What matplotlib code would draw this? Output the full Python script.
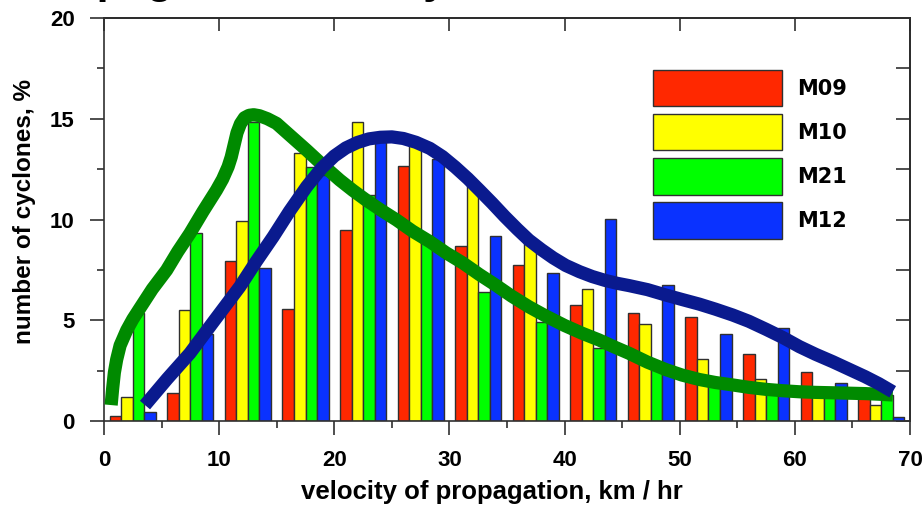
import matplotlib
matplotlib.use("Agg")
import matplotlib.pyplot as plt
import numpy as np
from matplotlib.ticker import MultipleLocator

# ---- data ----
bin_starts = [0, 5, 10, 15, 20, 25, 30, 35, 40, 45, 50, 55, 60, 65]
series_names = ["M09", "M10", "M21", "M12"]
m09 = [0.25, 1.37, 7.94, 5.56, 9.46, 12.65, 8.70, 7.74, 5.76, 5.34, 5.15, 3.33, 2.42, 1.50]
m10 = [1.18, 5.50, 9.94, 13.30, 14.82, 13.70, 11.80, 9.00, 6.53, 4.80, 3.06, 2.07, 1.50, 0.79]
m21 = [5.37, 9.35, 14.82, 12.60, 11.20, 9.00, 6.39, 4.93, 3.60, 2.80, 2.10, 1.70, 1.40, 1.30]
m12 = [0.46, 4.32, 7.58, 12.20, 13.90, 13.00, 9.20, 7.33, 10.02, 6.75, 4.32, 4.60, 1.87, 0.18]

green_x = [0.62, 0.75, 0.9, 1.1, 1.4, 1.97, 2.5, 3.12, 4.2, 5.44, 6.4, 7.46, 8.6, 9.77, 10.3,
           10.78, 11.05, 11.3, 11.55, 11.85, 12.2, 12.6, 13.0, 13.5, 14.2, 14.98, 16.2,
           17.58, 19.0, 20.47, 21.6, 22.8, 24.1, 25.4, 26.8, 28.3, 29.7, 31.2, 32.6, 34.0,
           35.4, 36.9, 38.4, 40.0, 41.5, 43.0, 44.3, 45.6, 47.2, 48.8, 50.2, 51.7, 53.1,
           54.6, 56.0, 57.5, 59.0, 60.4, 61.8, 63.3, 64.7, 66.1, 67.3, 68.5]
green_y = [0.79, 1.6, 2.4, 3.05, 3.75, 4.5, 5.05, 5.6, 6.55, 7.49, 8.4, 9.31, 10.4, 11.46, 12.0,
           12.62, 13.1, 13.7, 14.3, 14.75, 15.05, 15.17, 15.2, 15.15, 15.0, 14.77, 14.15,
           13.45, 12.7, 11.96, 11.45, 10.95, 10.45, 9.98, 9.42, 8.90, 8.35, 7.83, 7.27, 6.75,
           6.2, 5.67, 5.2, 4.74, 4.36, 4.02, 3.68, 3.36, 2.92, 2.55, 2.28, 2.06, 1.91,
           1.79, 1.67, 1.57, 1.50, 1.45, 1.42, 1.40, 1.38, 1.36, 1.33, 1.29]

blue_x = [3.56, 5.5, 7.46, 9.6, 11.8, 13.2, 14.7, 16.1, 17.6, 18.9, 20.0, 21.0, 22.0, 23.0,
          24.0, 25.0, 26.0, 27.1, 28.3, 29.4, 30.5, 31.6, 32.6, 33.7, 34.8, 35.9, 36.9,
          38.0, 39.0, 40.1, 41.3, 42.4, 43.5, 44.6, 45.6, 47.2, 48.8, 50.2, 51.7, 53.1,
          54.6, 56.0, 57.5, 59.0, 60.4, 61.8, 63.3, 64.7, 66.1, 67.3, 68.5]
blue_y = [0.79, 2.1, 3.36, 5.0, 6.67, 7.9, 9.15, 10.4, 11.63, 12.55, 13.15, 13.55, 13.82, 14.0,
          14.08, 14.1, 14.02, 13.83, 13.53, 13.12, 12.6, 12.03, 11.46, 10.82, 10.15, 9.52, 8.98,
          8.5, 8.1, 7.72, 7.41, 7.17, 6.98, 6.83, 6.72, 6.52, 6.25, 6.03, 5.80, 5.55,
          5.26, 4.95, 4.55, 4.13, 3.69, 3.31, 2.94, 2.57, 2.20, 1.85, 1.45]

bar_colors = ["#FF2800", "#FFFF00", "#00FF00", "#0A32FF"]
green_line = "#008A00"
blue_line = "#0A1A8E"

plt.rcParams["font.family"] = ["Liberation Sans", "DejaVu Sans"]

fig = plt.figure(figsize=(9.23, 5.07), dpi=100)
ax = fig.add_axes([104 / 923, 1 - 421 / 507, (910 - 104) / 923, (421 - 18) / 507])

starts = np.array(bin_starts, dtype=float)
for j, (name, vals, col) in enumerate(zip(series_names, [m09, m10, m21, m12], bar_colors)):
    ax.bar(starts + 1 + j, vals, width=1.0, color=col, edgecolor="#303030",
           linewidth=1.0, label=name, zorder=2)

ax.plot(green_x, green_y, color=green_line, lw=9.5, solid_capstyle="butt",
        solid_joinstyle="round", zorder=3)
ax.plot(blue_x, blue_y, color=blue_line, lw=9.5, solid_capstyle="butt",
        solid_joinstyle="round", zorder=4)

ax.set_xlim(0, 70)
ax.set_ylim(0, 20)

ax.xaxis.set_major_locator(MultipleLocator(10))
ax.xaxis.set_minor_locator(MultipleLocator(5))
ax.yaxis.set_major_locator(MultipleLocator(5))
ax.yaxis.set_minor_locator(MultipleLocator(2.5))
ax.tick_params(axis="both", which="major", direction="out", length=10, width=1.2,
               labelsize=16, pad=11, color="#303030")
ax.tick_params(axis="both", which="minor", direction="out", length=5, width=1.2,
               color="#303030")
for lab in ax.get_xticklabels() + ax.get_yticklabels():
    lab.set_fontweight("bold")

# top and right inner ticks
top = ax.secondary_xaxis("top")
top.xaxis.set_major_locator(MultipleLocator(10))
top.tick_params(direction="in", length=9, width=1.2, labeltop=False, color="#303030")
top.spines["top"].set_linewidth(1.2)
right = ax.secondary_yaxis("right")
right.yaxis.set_major_locator(MultipleLocator(2.5))
right.tick_params(direction="in", length=10, width=1.2, labelright=False, color="#303030")
right.spines["right"].set_linewidth(1.2)

for s in ax.spines.values():
    s.set_linewidth(1.2)
    s.set_color("#303030")

ax.set_xlabel("velocity of propagation, km / hr", fontsize=18.5, fontweight="bold", labelpad=6)
ax.set_ylabel("number of cyclones, %", fontsize=17.5, fontweight="bold", labelpad=10)
ax.xaxis.label.set_x(0.481)
ax.yaxis.label.set_y(0.52)

leg = ax.legend(loc="upper left", bbox_to_anchor=(0.681, 0.871), frameon=False,
                borderaxespad=0, borderpad=0, handlelength=6.2, handleheight=2.3,
                labelspacing=0.38, handletextpad=0.72,
                prop={"family": "DejaVu Sans", "weight": "bold", "size": 15})

fig.text(25 / 923, 1 + 7 / 507, "Propagation velocity", fontsize=31, fontweight="bold",
         va="baseline", ha="left")

fig.savefig("out.png", dpi=100)
